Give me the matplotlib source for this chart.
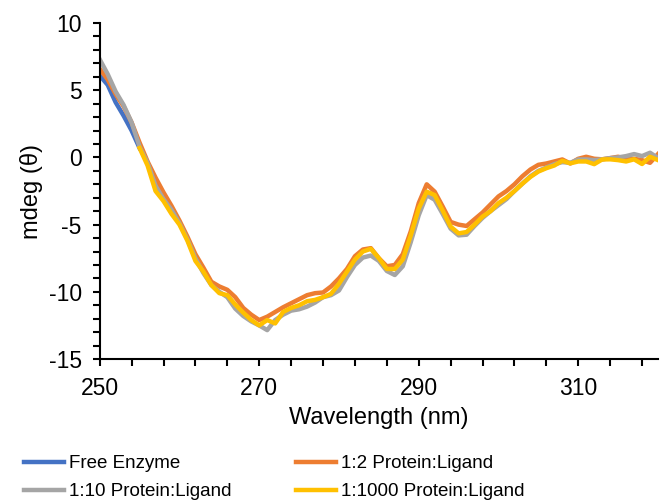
import matplotlib
matplotlib.use("Agg")
import matplotlib.pyplot as plt
from matplotlib.ticker import MultipleLocator

# wavelengths (nm)
wl_free = [250, 251, 252, 253, 254, 255]
wl = list(range(250, 321))
wl_1000 = list(range(255, 321))

# CD signal, mdeg
free_enzyme = [6.1, 5.4, 4.1, 3.1, 2.0, 0.7]

ratio_1_2 = [6.6, 5.8, 4.7, 3.8, 2.6, 1.1, -0.3, -1.5, -2.6, -3.6,
             -4.7, -5.9, -7.2, -8.2, -9.25, -9.6, -9.85, -10.4, -11.2, -11.7,
             -12.1, -11.85, -11.5, -11.15, -10.85, -10.55, -10.25, -10.1, -10.05, -9.6,
             -9.0, -8.3, -7.35, -6.85, -6.75, -7.5, -8.1, -8.0, -7.2, -5.5,
             -3.4, -2.0, -2.55, -3.65, -4.8, -5.0, -5.1, -4.6, -4.1, -3.5,
             -2.9, -2.5, -2.0, -1.4, -0.9, -0.55, -0.45, -0.3, -0.15, -0.45,
             -0.1, 0.05, -0.1, -0.14, -0.05, 0.05, -0.1, -0.1, -0.2, -0.4,
             0.25]

ratio_1_10 = [7.3, 6.2, 4.9, 3.9, 2.6, 0.8, -0.4, -2.1, -3.1, -3.9,
              -4.9, -6.1, -7.5, -8.6, -9.5, -10.0, -10.4, -11.25, -11.8, -12.2,
              -12.5, -12.85, -12.1, -11.7, -11.4, -11.3, -11.1, -10.8, -10.4, -10.25,
              -9.9, -8.9, -8.0, -7.45, -7.3, -7.7, -8.45, -8.75, -8.1, -6.3,
              -4.3, -2.8, -3.15, -4.2, -5.3, -5.8, -5.75, -5.1, -4.5, -4.0,
              -3.55, -3.1, -2.5, -1.95, -1.4, -1.0, -0.75, -0.5, -0.35, -0.4,
              -0.15, -0.15, -0.2, -0.14, -0.05, 0.0, 0.1, 0.25, 0.1, 0.35,
              -0.05]

ratio_1_1000 = [0.7, -0.6, -2.5, -3.25, -4.2,
                -5.0, -6.2, -7.7, -8.5, -9.5, -10.1, -10.25, -10.95, -11.55, -12.1,
                -12.5, -12.1, -12.35, -11.5, -11.2, -11.0, -10.7, -10.6, -10.4, -10.15,
                -9.4, -8.5, -7.6, -7.0, -6.8, -7.5, -8.3, -8.3, -7.6, -5.8,
                -3.8, -2.55, -2.8, -3.95, -5.15, -5.65, -5.55, -5.0, -4.4, -4.0,
                -3.4, -3.0, -2.5, -1.95, -1.45, -1.05, -0.8, -0.6, -0.25, -0.44,
                -0.3, -0.3, -0.5, -0.15, -0.14, -0.2, -0.3, -0.14, -0.49, 0.05,
                -0.2]

plt.rcParams['font.family'] = ['Liberation Sans', 'DejaVu Sans']
plt.rcParams['axes.unicode_minus'] = False

fig = plt.figure(figsize=(6.66, 5.01), dpi=100)
ax = fig.add_axes([0.1497, 0.2834, 0.8383, 0.6706])

lw = 3.2
l_free, = ax.plot(wl_free, free_enzyme, color='#4472C4', lw=lw, label='Free Enzyme')
l_12, = ax.plot(wl, ratio_1_2, color='#ED7D31', lw=lw, label='1:2 Protein:Ligand')
l_110, = ax.plot(wl, ratio_1_10, color='#A5A5A5', lw=lw, label='1:10 Protein:Ligand')
l_11000, = ax.plot(wl_1000, ratio_1_1000, color='#FFC000', lw=lw, label='1:1000 Protein:Ligand')

ax.set_xlim(250, 320)
ax.set_ylim(-15, 10)
ax.xaxis.set_major_locator(MultipleLocator(20, offset=10))
ax.xaxis.set_minor_locator(MultipleLocator(4, offset=2))
ax.yaxis.set_major_locator(MultipleLocator(5))
ax.yaxis.set_minor_locator(MultipleLocator(1))

for side in ['top', 'right']:
    ax.spines[side].set_visible(False)
for side in ['left', 'bottom']:
    ax.spines[side].set_linewidth(1.5)
    ax.spines[side].set_color('black')

ax.tick_params(which='both', direction='out', width=1.5, length=5, labelsize=16.5, colors='black')
ax.tick_params(axis='x', which='major', pad=8)
ax.tick_params(axis='y', which='major', pad=8)

ax.set_xlabel('Wavelength (nm)', fontsize=17, labelpad=5)
ax.set_ylabel('mdeg (θ)', fontsize=17, labelpad=4)

# Excel fills legend row by row
handles = [l_free, l_110, l_12, l_11000]
fig.legend(handles=handles, labels=[h.get_label() for h in handles],
           loc='lower left', bbox_to_anchor=(0.010, -0.032), ncol=2, frameon=False,
           fontsize=13.5, handlelength=2.15, handletextpad=0.25, columnspacing=3.45,
           labelspacing=0.58)

fig.savefig('out.png', dpi=100)
